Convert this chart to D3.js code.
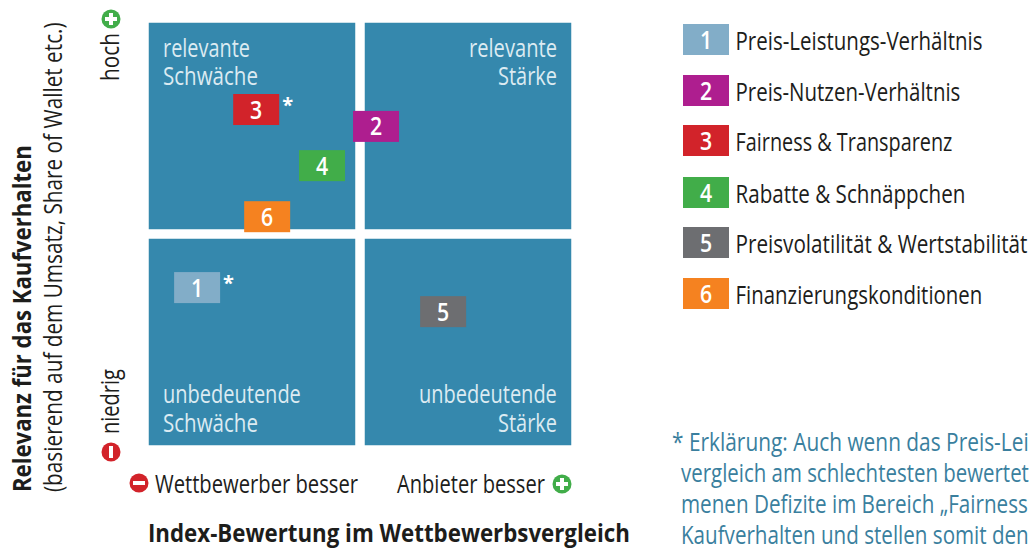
<!doctype html>
<html>
<head>
    <meta charset="utf-8" />
    <style>
        html, body {
            margin: 0;
            padding: 0;
            background: #fff;
            overflow: hidden;
        }

        svg {
            display: block;
        }

        text {
            font-family: 'Open Sans', sans-serif;
            font-weight: 400;
            font-size: 25px;
            fill: #1d1d1b;
        }

        text.quadrant {
            fill: #dcebf2;
        }

        text.badge {
            font-weight: 600;
            fill: #fff;
            text-anchor: middle;
        }

        text.star {
            font-weight: 700;
            font-size: 20px;
            fill: #fff;
        }

        text.strong {
            font-weight: 700;
        }

        text.note {
            fill: #3a7f9e;
        }
    </style>
    <script src="https://d3js.org/d3.v7.min.js"></script>
</head>
<body>
<svg width="1030" height="548"></svg>
<script>
    // values, index 0-100 on both axes
    const ids = [1, 2, 3, 4, 5, 6]
    const categories = [
        'Preis-Leistungs-Verhältnis',
        'Preis-Nutzen-Verhältnis',
        'Fairness & Transparenz',
        'Rabatte & Schnäppchen',
        'Preisvolatilität & Wertstabilität',
        'Finanzierungskonditionen'
    ]
    const indexValues = [11.4, 53.8, 25.4, 41.0, 69.7, 28.0]
    const relevanceValues = [37.3, 75.5, 79.5, 66.2, 31.6, 54.1]
    const starred = [1, 3]

    const quadrantLines = [
        ['relevante', 'Schwäche'],
        ['relevante', 'Stärke'],
        ['unbedeutende', 'Schwäche'],
        ['unbedeutende', 'Stärke']
    ]
    const noteLines = [
        '* Erklärung: Auch wenn das Preis-Lei',
        'vergleich am schlechtesten bewertet',
        'menen Defizite im Bereich „Fairness',
        'Kaufverhalten und stellen somit den'
    ]

    const palette = ['#82adc8', '#ae1e8f', '#d2232a', '#41ad49', '#6d6e71', '#f58220']

    const svg = d3.select('svg')

    const plot = { left: 149, right: 571, top: 23, bottom: 445 }
    const badgeW = 46
    const badgeH = 31

    const xScale = d3.scaleLinear().domain([0, 100]).range([plot.left, plot.right])
    const yScale = d3.scaleLinear().domain([0, 100]).range([plot.bottom, plot.top])
    const colour = d3.scaleOrdinal().domain(ids).range(palette)

    const colBand = d3.scaleBand().domain([0, 1]).range([plot.left, plot.right]).paddingInner(0.0463)
    const rowBand = d3.scaleBand().domain([0, 1]).range([plot.top, plot.bottom]).paddingInner(0.0463)

    // the reference font is narrower than anything installed, so squeeze to measured width
    function label(parent, str, x, y, width, cls, rotate) {
        const t = parent.append('text')
            .attr('class', cls || null)
            .text(str)
        const k = width / t.node().getComputedTextLength()
        t.attr('transform', `translate(${x}, ${y}) rotate(${rotate || 0}) scale(${k}, 1)`)
        return t
    }

    // quadrants
    const quadrants = svg.append('g')
    quadrantLines.forEach((lines, i) => {
        const col = i % 2
        const row = Math.floor(i / 2)
        quadrants.append('rect')
            .attr('x', colBand(col))
            .attr('y', rowBand(row))
            .attr('width', colBand.bandwidth())
            .attr('height', rowBand.bandwidth())
            .attr('fill', '#3588ad')
            .attr('stroke', '#3588ad')
            .attr('stroke-width', 0.5)
    })

    const quadWidths = [[87, 95], [88, 59], [138, 95], [138, 59]]
    const quadBase = [[57, 85], [57, 85], [403, 431.5], [403, 431.5]]
    quadrantLines.forEach((lines, i) => {
        lines.forEach((line, j) => {
            const w = quadWidths[i][j]
            const x = i % 2 === 0 ? 163 : 557 - w
            label(quadrants, line, x, quadBase[i][j], w, 'quadrant')
        })
    })

    // badges in the matrix
    const badges = svg.selectAll('g.point')
        .data(ids)
        .enter()
        .append('g')
        .attr('class', 'point')
        .attr('transform', (d, i) => `translate(${xScale(indexValues[i])}, ${yScale(relevanceValues[i])})`)

    badges.append('rect')
        .attr('x', -badgeW / 2)
        .attr('y', -badgeH / 2)
        .attr('width', badgeW)
        .attr('height', badgeH)
        .attr('fill', (d) => colour(d))

    badges.append('text')
        .attr('class', 'badge')
        .attr('transform', 'translate(0, 9) scale(0.85, 1)')
        .text((d) => d)

    badges.filter((d) => starred.includes(d))
        .append('text')
        .attr('class', 'star')
        .attr('x', 26)
        .attr('y', 2)
        .text('*')

    // legend
    const legendTop = [24, 75, 125, 177, 227, 278]
    const legendWidths = [247, 225, 217, 230, 292, 247]
    const legend = svg.selectAll('g.legend')
        .data(ids)
        .enter()
        .append('g')
        .attr('class', 'legend')
        .attr('transform', (d, i) => `translate(683, ${legendTop[i]})`)

    legend.append('rect')
        .attr('width', badgeW)
        .attr('height', badgeH)
        .attr('fill', (d) => colour(d))

    legend.append('text')
        .attr('class', 'badge')
        .attr('transform', `translate(${badgeW / 2}, 24.5) scale(0.85, 1)`)
        .text((d) => d)

    legend.each(function (d, i) {
        label(d3.select(this), categories[i], 52.5, 26, legendWidths[i])
    })

    // plus / minus markers
    function marker(cx, cy, kind) {
        const g = svg.append('g').attr('transform', `translate(${cx}, ${cy})`)
        g.append('circle')
            .attr('r', 9.5)
            .attr('fill', kind === 'plus' ? '#41ad49' : '#d2232a')
        if (kind !== 'vminus') {
            g.append('rect').attr('x', -6).attr('y', -2).attr('width', 12).attr('height', 4).attr('fill', '#fff')
        }
        if (kind !== 'minus') {
            g.append('rect').attr('x', -2).attr('y', -6).attr('width', 4).attr('height', 12).attr('fill', '#fff')
        }
    }

    marker(111, 19, 'plus')
    marker(111, 452, 'vminus')
    marker(139, 483, 'minus')
    marker(562, 484, 'plus')

    // x axis captions
    label(svg, 'Wettbewerber besser', 155, 492.5, 203)
    label(svg, 'Anbieter besser', 397, 492.5, 148)
    label(svg, 'Index-Bewertung im Wettbewerbsvergleich', 148, 542, 482, 'strong')

    // y axis captions, rotated
    label(svg, 'Relevanz für das Kaufverhalten', 31, 492, 347, 'strong', -90)
    label(svg, '(basierend auf dem Umsatz, Share of Wallet etc.)', 62, 492, 470, null, -90)
    label(svg, 'hoch', 119, 81, 48, null, -90)
    label(svg, 'niedrig', 119, 434, 65, null, -90)

    // footnote, cut off by the page edge as in the source
    const noteBase = [450.5, 481.5, 513, 544]
    const noteX = [672, 681, 681, 681]
    const noteW = [357, 348, 347, 348]
    noteLines.forEach((line, i) => {
        label(svg, line, noteX[i], noteBase[i], noteW[i], 'note')
    })
</script>
</body>
</html>
